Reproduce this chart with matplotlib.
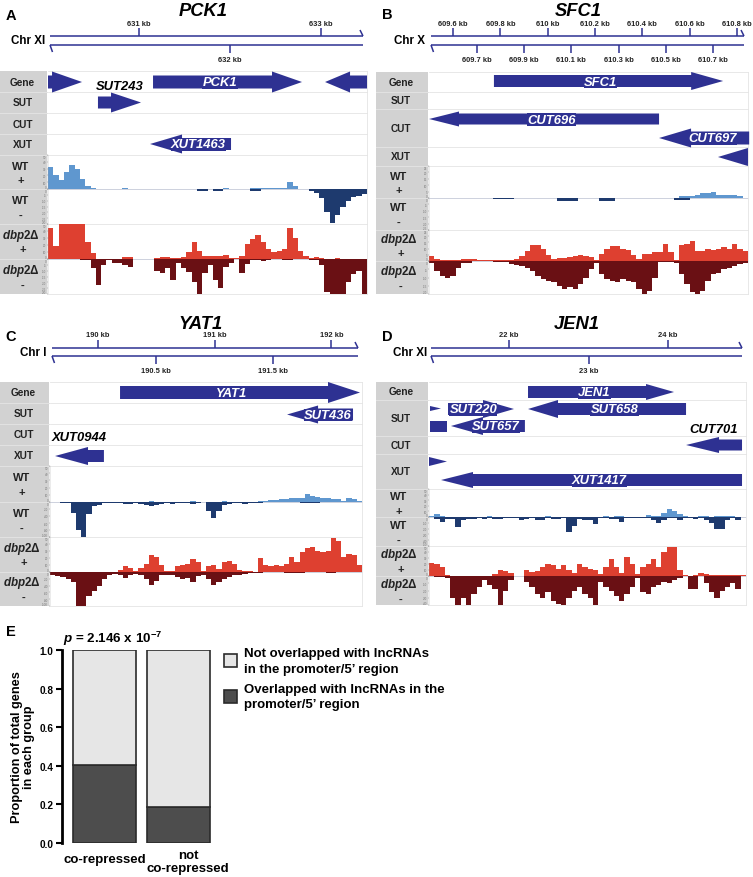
import numpy as np
import matplotlib
matplotlib.use("Agg")
import matplotlib.pyplot as plt
from matplotlib.patches import Polygon, Rectangle, Patch
import matplotlib.transforms as mtransforms

plt.rcParams['font.family'] = ['Liberation Sans', 'DejaVu Sans']
plt.rcParams['mathtext.fontset'] = 'custom'
plt.rcParams['mathtext.rm'] = 'Liberation Sans:bold'
plt.rcParams['mathtext.it'] = 'Liberation Sans:bold:italic'
plt.rcParams['mathtext.bf'] = 'Liberation Sans:bold'

# ====================== DATA ======================
GENE_TITLES = ["PCK1", "SFC1", "YAT1", "JEN1"]
CHROMOSOMES = ["Chr XI", "Chr X", "Chr I", "Chr XI"]
TRACK_NAMES = ["Gene", "SUT", "CUT", "XUT"]

# visible genomic windows (kb)
A_WINDOW = [630.0, 633.505]
B_WINDOW = [609.4985, 610.847]
C_WINDOW = [189.589, 192.262]
D_WINDOW = [20.994, 24.98]

A_TOP_TICKS = [631, 633]
A_BOTTOM_TICKS = [632]
B_TOP_TICKS = [609.6, 609.8, 610.0, 610.2, 610.4, 610.6, 610.8]
B_BOTTOM_TICKS = [609.7, 609.9, 610.1, 610.3, 610.5, 610.7]
C_TOP_TICKS = [190, 191, 192]
C_BOTTOM_TICKS = [190.5, 191.5]
D_TOP_TICKS = [22, 24]
D_BOTTOM_TICKS = [23]

# features: (name, track, start_kb, end_kb, strand, label mode)
A_FEATURES = [
    ("", "Gene", 630.00, 630.374, "+", ""),
    ("PCK1", "Gene", 631.154, 632.791, "+", "in"),
    ("", "Gene", 633.044, 633.505, "-", ""),
    ("SUT243", "SUT", 630.549, 631.022, "+", "above"),
    ("XUT1463", "XUT", 631.121, 632.011, "-", "in"),
]
B_FEATURES = [
    ("SFC1", "Gene", 609.773, 610.742, "+", "in"),
    ("CUT696", "CUT", 609.4985, 610.471, "-", "in"),
    ("CUT697", "CUT", 610.471, 610.852, "-", "in"),
    ("", "XUT", 610.720, 610.847, "-", ""),
]
C_FEATURES = [
    ("YAT1", "Gene", 190.189, 192.245, "+", "in"),
    ("SUT436", "SUT", 191.62, 192.185, "-", "in"),
    ("XUT0944", "XUT", 189.632, 190.051, "-", "above"),
]
D_FEATURES = [
    ("JEN1", "Gene", 22.239, 24.075, "+", "in"),
    ("", "SUT", 21.006, 21.145, "+", ""),
    ("SUT220", "SUT", 21.233, 22.063, "+", "in"),
    ("SUT658", "SUT", 22.239, 24.226, "-", "in"),
    ("", "SUT", 21.006, 21.22, ".", ""),
    ("SUT657", "SUT", 21.27, 22.2, "-", "in"),
    ("CUT701", "CUT", 24.226, 24.93, "-", "above"),
    ("", "XUT", 20.994, 21.22, "+", ""),
    ("XUT1417", "XUT", 21.145, 24.93, "-", "in"),
]

# coverage (RNA-seq read density), 60 equal bins across each window
A_WT_PLUS = [33, 20, 13, 25, 36, 30, 14, 4, 2, 0,
             0, 0, 0, 0, 2, 0, 0, 0, 0, 0,
             0, 0, 0, 0, 0, 0, 0, 0, 0, 0,
             0, 0, 0, 1, 0, 0, 0, 0, 2, 2,
             1.5, 1, 1, 1, 1, 10, 4, 0, 0, 0,
             0, 0, 0, 0, 0, 0, 0, 0, 0, 0]
A_WT_MINUS = [0, 0, 0, 0, 0, 0, 0, 0, 0, 0,
              0, 0, 0, 0, 0, 0, 0, 0, 0, 0,
              0, 0, 0, 0, 0, 0, 0, 0, -2, -1.5,
              0, -2, -2, 0, 0, 0, 0, 0, -1.5, -1.5,
              0, 0, 0, 0, 0, 0, 0, 0, 0, -2,
              -3, -8, -20, -29, -22, -15, -10, -7, -6, -4]
A_DBP_PLUS = [45, 18, 50, 50, 50, 50, 50, 25, 8, 0,
              0, 0, 0, 0, 3, 3, 0, 0, 0, 0,
              1, 3, 3, 1, 1, 3, 10, 25, 12, 4,
              5, 5, 4, 6, 2, 2, 4, 22, 28, 35,
              25, 15, 10, 12, 14, 45, 30, 12, 5, 1,
              3, 1, 0, 0, 2, 0, 0, 0, 0, 0]
A_DBP_MINUS = [0, 0, 0, 0, 0, 0, -1, -1, -8, -22,
               -5, -1, -3, -3, -5, -7, 0, 0, 0, 0,
               -10, -12, -8, -18, -3, -8, -11, -20, -30, -12,
               -5, -18, -25, -7, -3, 0, -12, -4, -1, -1,
               -2, -1, 0, 0, -1, -1, 0, 0, 0, -1,
               -1, -5, -28, -30, -30, -30, -20, -13, -10, -30]

B_WT_PLUS = [0, 0, 0, 0, 0, 0, 0, 0, 0, 0,
             0, 0, 0, 0, 0, 0, 0, 0, 0, 0,
             0, 0, 0, 0, 0, 0, 0, 0, 0, 0,
             0, 0, 0, 0, 0, 0, 0, 0, 0, 0,
             0, 0, 0, 0, 0, 0, 0, 1.5, 1.5, 1.5,
             2, 4, 4, 4.5, 2.5, 2.5, 2, 2, 1.5, 0]
B_WT_MINUS = [0, 0, 0, 0, 0, 0, 0, 0, 0, 0,
              0, 0, -1, -1, -1, -1, 0, 0, 0, 0,
              0, 0, 0, 0, -2.5, -2.5, -2.5, -2.5, 0, 0,
              0, 0, -2.5, -2.5, -2.5, 0, 0, 0, 0, 0,
              0, 0, 0, 0, 0, 0, -1.5, -1.5, -1.5, 0,
              0, 0, 0, 0, 0, 0, 0, 0, 0, 0]
B_DBP_PLUS = [4, 2, 0.5, 0.5, 0.5, 0.5, 1.5, 1.5, 1.5, 0.5,
              0.5, 0.5, 0.5, 0.5, 0.5, 1, 1.5, 4, 8, 13,
              13, 10, 5, 2, 2.5, 2.5, 3.5, 4, 4.5, 4,
              3, 1, 6, 10, 12, 12, 10, 9, 5, 1.5,
              6, 6, 7, 7, 14, 7, 1, 13, 14, 16,
              8, 8, 10, 9, 10, 11, 10, 14, 10, 8]
B_DBP_MINUS = [-1, -6, -9, -10, -9, -4, -1.5, -1.5, 0, 0,
               0, 0, -0.5, -0.5, -0.5, -2, -2.5, -3, -4, -6,
               -9, -11, -12, -13, -15, -17, -16, -17, -14, -10,
               -5, -1, -8, -11, -12, -13, -11, -12, -13, -17,
               -20, -18, -10, -0.5, -0.5, -0.5, -1, -8, -14, -19,
               -20, -18, -12, -8, -7, -5, -4, -3, -2, -1]

C_WT_PLUS = [0, 0, 0, 0, 0, 0, 0, 0, 0, 0,
             0, 0, 0, 0, 0, 0, 0, 0, 0, 1,
             0, 0, 0, 0, 0, 0, 0, 1, 0, 0,
             0, 0, 0, 1, 0, 0, 0, 0, 0, 0,
             1, 1, 3, 3, 4, 4, 5, 5, 6, 11,
             9, 7, 6, 5, 4, 4, 1, 6, 4, 1]
C_WT_MINUS = [-1, -1, -2, -4, -30, -80, -100, -35, -12, -8,
              -3, -2, -3, -2, -7, -5, -4, -6, -8, -12,
              -8, -5, -4, -5, -4, -2, -3, -7, -2, -1,
              -25, -45, -25, -8, -5, -4, -3, -5, -4, -2,
              -2, -1, -1, -1, -1, -1, -1, -1, -3, -4,
              -4, -3, -1, 0, 0, 0, 0, 0, 0, 0]
C_DBP_PLUS = [0, 0, 0, 0, 0, 0, 0, 0, 0, 0,
              0, 0, 0, 3, 8, 6, 1, 6, 12, 25,
              22, 10, 2, 2, 8, 10, 12, 18, 15, 2,
              8, 10, 4, 14, 16, 12, 3, 1, 1, 0.5,
              20, 10, 9, 10, 8, 12, 22, 15, 28, 34,
              36, 30, 28, 30, 48, 44, 22, 26, 24, 10]
C_DBP_MINUS = [-8, -12, -15, -20, -30, -100, -100, -70, -55, -40,
               -20, -10, -5, -8, -18, -10, -5, -10, -20, -38,
               -25, -10, -8, -10, -15, -20, -18, -28, -12, -8,
               -20, -38, -30, -20, -15, -10, -8, -5, -3, -2,
               -2, -1, -0.5, -0.5, -0.5, -2, -2, -1.5, -2, -1,
               -0.5, -0.5, -0.5, -2, -2, 0, 0, 0, 0, 0]

D_WT_PLUS = [2, 5, 1, 0.5, 0.5, 0.5, 0.5, 0.5, 0.5, 0.5,
             0.5, 1, 0.5, 0.5, 0.5, 0.5, 0.5, 0.5, 0.5, 0.5,
             0.5, 0.5, 1, 0.5, 0.5, 0.5, 0.5, 0.5, 0.5, 0.5,
             0.5, 0.5, 0.5, 1, 0.5, 2, 1, 0.5, 0.5, 0.5,
             0.5, 3, 1, 2, 8, 15, 10, 6, 2, 0.5,
             0.5, 1.5, 1, 0.5, 1, 1, 1, 1, 0.5, 0.5]
D_WT_MINUS = [0, -3, -8, -3, -3, -18, -5, -3, -4, -1,
              -3, -2, -4, -4, -1, -2, -1, -5, -4, -2,
              -6, -6, -2, -4, -3, -1, -25, -15, -3, -6,
              -6, -12, -1, -1, -4, -4, -8, -1, -1, -1,
              -1, -1, -5, -10, -5, -2, -1, -5, -1, -1,
              -3, -1, -5, -10, -20, -20, -5, -1, -6, 0]
D_DBP_PLUS = [22, 20, 15, 1, 0.5, 0.5, 0.5, 0.5, 0.5, 0.5,
              0.5, 0.5, 3, 10, 8, 5, 0.5, 0.5, 10, 6,
              8, 15, 20, 18, 12, 18, 10, 5, 20, 15,
              12, 10, 3, 15, 28, 15, 5, 32, 20, 3,
              15, 20, 28, 15, 40, 48, 48, 10, 1, 0.5,
              1, 5, 4, 2, 1.5, 2, 1, 1, 1, 1]
D_DBP_MINUS = [0, -2, -2, -3, -30, -40, -30, -40, -25, -15,
               -5, -12, -18, -40, -20, -5, 0, 0, -8, -15,
               -25, -30, -22, -35, -38, -40, -30, -20, -15, -25,
               -30, -40, -8, -15, -20, -28, -35, -25, -15, -3,
               -22, -25, -15, -12, -8, -10, -5, -3, 0, -18,
               -18, 0, -10, -22, -30, -20, -15, -10, -18, 0]

# panel E
E_GROUPS = ["co-repressed", "not\nco-repressed"]
E_OVERLAPPED = [0.405, 0.185]
E_LEGEND_LABELS = ["Not overlapped with lncRNAs\nin the promoter/5\u2019 region",
                   "Overlapped with lncRNAs in the\npromoter/5\u2019 region"]
E_P_TEXT = r"$p$ = 2.146 x 10$^{-7}$"
E_YLABEL = "Proportion of total genes\nin each group"

# ====================== STYLE / LAYOUT ======================
NAVY = '#2E3192'
COV_COLORS = ['#5F97CF', '#1E3A6E', '#DE4030', '#6A1014']
GRAY_COL = '#D2D2D2'
SEP = '#E4E4E4'

LAYOUT = {
    'A': dict(col=(0, 47), data=(48, 367), chr=(37, 46),
              rows=[72, 93, 114, 135, 156, 190, 225, 260, 295],
              letter=(6, 16), title=(203, 15.5), chrlab=(45, 41),
              lanes=[(83, 21, 13, 30), (83, 21, 13, 30), (83, 21, 13, 25),
                     (103.5, 20, 12, 30), (145, 19, 12, 32)],
              above=[None, None, None, 87, None],
              ylims=[(0, 50), (-30, 0), (0, 50), (-30, 0)], steps=[10, 5, 10, 5]),
    'B': dict(col=(376, 428), data=(429, 748), chr=(37, 46),
              rows=[73, 93, 110, 148, 167, 199, 231, 262, 295],
              letter=(382, 15), title=(578, 15.5), chrlab=(425, 41),
              lanes=[(82, 18, 12, 32), (120, 15, 11, 30), (139, 19, 13, 32),
                     (158, 18, 12, 30)],
              above=[None, None, None, None],
              ylims=[(0, 25), (-25, 0), (0, 25), (-20, 0)], steps=[5, 5, 5, 5]),
    'C': dict(col=(0, 49), data=(50, 362), chr=(349, 357),
              rows=[383, 404, 425, 446, 467, 503, 538, 573, 607],
              letter=(5, 337), title=(201, 329), chrlab=(47, 353),
              lanes=[(393.5, 21, 13, 32), (415.5, 18, 12, 31), (457, 18, 12, 33)],
              above=[None, None, 438],
              ylims=[(0, 50), (-100, 0), (0, 50), (-100, 0)], steps=[10, 20, 10, 20]),
    'D': dict(col=(376, 428), data=(429, 746), chr=(349, 357),
              rows=[383, 401, 437, 455, 490, 518, 547, 577, 606],
              letter=(382, 337), title=(577, 329), chrlab=(427, 353),
              lanes=[(393, 16, 12, 28), (409.5, 5, 0, 11), (410, 18, 12, 31),
                     (410, 18, 12, 30), (427.5, 11, 11, 0), (427, 18, 12, 32),
                     (446, 16, 11, 33), (462.5, 9, 0, 18), (481, 16, 12, 32)],
              above=[None, None, None, None, None, None, 430, None, None],
              ylims=[(0, 50), (-50, 0), (0, 50), (-40, 0)], steps=[10, 10, 10, 10]),
}

W, H = 753, 878
fig = plt.figure(figsize=(W / 100, H / 100), dpi=100)


def px_axes(x0, y0, x1, y1):
    ax = fig.add_axes([x0 / W, 1 - y1 / H, (x1 - x0) / W, (y1 - y0) / H])
    ax.set_facecolor('none')
    return ax


ov = px_axes(0, 0, W, H)
ov.set_xlim(0, W)
ov.set_ylim(H, 0)
ov.axis('off')


def draw_panel(key, title, chrom, window, top_ticks, bot_ticks, features, coverage):
    L = LAYOUT[key]
    cx0, cx1 = L['col']
    dx0, dx1 = L['data']
    rows = L['rows']
    kbpp = (window[1] - window[0]) / (dx1 - dx0)

    ov.text(L['letter'][0], L['letter'][1], key, fontsize=10.5, fontweight='bold',
            ha='left', va='center')
    ov.text(L['title'][0], L['title'][1], title, fontsize=13.2, fontweight='bold',
            style='italic', ha='center', va='baseline')

    # chromosome ruler
    yt, yb = L['chr']
    ca = px_axes(dx0, yt - 22, dx1, yb + 22)
    ca.set_xlim(window)
    ca.set_ylim(yb + 22, yt - 22)
    ca.axis('off')
    x0 = window[0] + 2 * kbpp
    x1 = window[1] - 4 * kbpp
    lk = dict(color=NAVY, lw=1.1, clip_on=False, solid_capstyle='butt')
    ca.plot([x0, x1], [yt, yt], **lk)
    ca.plot([x0, x1], [yb, yb], **lk)
    ca.plot([x1 - 3 * kbpp, x1], [yt - 6, yt], **lk)
    ca.plot([x0, x0 + 2.5 * kbpp], [yb, yb + 7], **lk)
    for t in top_ticks:
        ca.plot([t, t], [yt - 8, yt], **lk)
        ca.text(t, yt - 13, f"{t:g} kb", ha='center', va='center', fontsize=5.4,
                fontweight='bold', color='#222222')
    for t in bot_ticks:
        ca.plot([t, t], [yb, yb + 8], **lk)
        ca.text(t, yb + 14.5, f"{t:g} kb", ha='center', va='center', fontsize=5.4,
                fontweight='bold', color='#222222')
    ov.text(L['chrlab'][0], L['chrlab'][1], chrom, ha='right', va='center',
            fontsize=8.4, fontweight='bold')

    # label column & separators
    ov.add_patch(Rectangle((cx0, rows[0]), cx1 - cx0, rows[-1] - rows[0],
                           facecolor=GRAY_COL, edgecolor='none'))
    for y in rows[1:-1]:
        ov.plot([cx0, cx1], [y, y], color='#E2E2E2', lw=0.7)
    for y in rows:
        ov.plot([dx0, dx1], [y, y], color=SEP, lw=0.6)
    ov.plot([dx1, dx1], [rows[0], rows[-1]], color=SEP, lw=0.6)
    cmid = (cx0 + cx1) / 2
    for i, nm in enumerate(TRACK_NAMES):
        ov.text(cmid - 1, (rows[i] + rows[i + 1]) / 2, nm, ha='center', va='center',
                fontsize=7.2, fontweight='bold', color='#222222')
    heads = ["WT", "WT", r"$\mathit{dbp2}$" + "\u0394", r"$\mathit{dbp2}$" + "\u0394"]
    signs = ["+", "-", "+", "-"]
    for k in range(4):
        yc = (rows[4 + k] + rows[5 + k]) / 2
        is_dbp = k >= 2
        ov.text(cmid - 3, yc - 6.5, heads[k], ha='center',
                va='center', fontsize=8.4 if is_dbp else 8, fontweight='bold',
                color='#222222')
        ov.text(cmid - (1 if is_dbp else 3), yc + 8, signs[k], ha='center',
                va='center', fontsize=8, fontweight='bold', color='#222222')

    # annotation features
    aa = px_axes(dx0, rows[0], dx1, rows[4])
    aa.set_xlim(window)
    aa.set_ylim(rows[4], rows[0])
    aa.axis('off')
    for f, lane, ay in zip(features, L['lanes'], L['above']):
        name, track, s, e, strand, mode = f
        yc, hh, bh, hl = lane
        hlk = min(hl * kbpp, e - s)
        if strand == '+':
            neck = e - hlk
            if neck - s < 1e-9:
                pts = [(s, yc - hh / 2), (e, yc), (s, yc + hh / 2)]
            else:
                pts = [(s, yc - bh / 2), (neck, yc - bh / 2), (neck, yc - hh / 2), (e, yc),
                       (neck, yc + hh / 2), (neck, yc + bh / 2), (s, yc + bh / 2)]
            body_c = (s + neck) / 2
        elif strand == '-':
            neck = s + hlk
            if e - neck < 1e-9:
                pts = [(e, yc - hh / 2), (s, yc), (e, yc + hh / 2)]
            else:
                pts = [(e, yc - bh / 2), (neck, yc - bh / 2), (neck, yc - hh / 2), (s, yc),
                       (neck, yc + hh / 2), (neck, yc + bh / 2), (e, yc + bh / 2)]
            body_c = (neck + e) / 2
        else:
            pts = [(s, yc - bh / 2), (e, yc - bh / 2), (e, yc + bh / 2), (s, yc + bh / 2)]
            body_c = (s + e) / 2
        aa.add_patch(Polygon(pts, closed=True, facecolor=NAVY, edgecolor='none',
                             clip_on=False))
        if mode == 'in':
            xc = (body_c + (s + e) / 2) / 2
            aa.text(xc, yc + 0.5, name, color='white', fontsize=9.4, fontweight='bold',
                    style='italic', ha='center', va='center', clip_on=False,
                    bbox=dict(boxstyle='square,pad=0.02', fc=NAVY, ec='none'))
        elif mode == 'above':
            aa.text((s + e) / 2, ay, name, color='black', fontsize=9.4,
                    fontweight='bold', style='italic', ha='center', va='center',
                    clip_on=False)

    # coverage tracks
    for k, arr in enumerate(coverage):
        ax = px_axes(dx0, rows[4 + k], dx1, rows[5 + k])
        lo, hi = L['ylims'][k]
        edges = np.linspace(window[0], window[1], len(arr) + 1)
        ax.stairs(np.clip(arr, lo, hi), edges, fill=True, color=COV_COLORS[k], baseline=0,
                  lw=0)
        ax.axhline(0, color='#C9CEDD', lw=0.6, zorder=0)
        ax.set_xlim(window)
        ax.set_ylim(lo, hi)
        for sp in ['top', 'right', 'bottom']:
            ax.spines[sp].set_visible(False)
        ax.spines['left'].set_color('#A0A0A0')
        ax.spines['left'].set_linewidth(0.3)
        ax.set_xticks([])
        step = L['steps'][k]
        ticks = np.arange(0, hi + 1e-9, step) if hi > 0 else np.arange(lo, 1e-9, step)
        ax.set_yticks(ticks)
        ax.set_yticklabels([f"{int(round(t))}" for t in ticks])
        ax.tick_params(axis='y', labelsize=2.2, length=1.0, width=0.3, colors='#777777',
                       pad=0.3)
        tl = ax.get_yticklabels()
        tl[0].set_verticalalignment('bottom')
        tl[-1].set_verticalalignment('top')


draw_panel('A', GENE_TITLES[0], CHROMOSOMES[0], A_WINDOW, A_TOP_TICKS, A_BOTTOM_TICKS,
           A_FEATURES, [A_WT_PLUS, A_WT_MINUS, A_DBP_PLUS, A_DBP_MINUS])
draw_panel('B', GENE_TITLES[1], CHROMOSOMES[1], B_WINDOW, B_TOP_TICKS, B_BOTTOM_TICKS,
           B_FEATURES, [B_WT_PLUS, B_WT_MINUS, B_DBP_PLUS, B_DBP_MINUS])
draw_panel('C', GENE_TITLES[2], CHROMOSOMES[2], C_WINDOW, C_TOP_TICKS, C_BOTTOM_TICKS,
           C_FEATURES, [C_WT_PLUS, C_WT_MINUS, C_DBP_PLUS, C_DBP_MINUS])
draw_panel('D', GENE_TITLES[3], CHROMOSOMES[3], D_WINDOW, D_TOP_TICKS, D_BOTTOM_TICKS,
           D_FEATURES, [D_WT_PLUS, D_WT_MINUS, D_DBP_PLUS, D_DBP_MINUS])

# ====================== PANEL E ======================
ov.text(6, 632, "E", fontsize=10.5, fontweight='bold', ha='left', va='center')
axE = px_axes(62, 651, 212, 844)
xpos = np.arange(len(E_GROUPS))
overlap = np.array(E_OVERLAPPED)
rest = 1 - overlap
bw = 0.857
axE.bar(xpos, overlap, width=bw, color='#4D4D4D', edgecolor='#2B2B2B', lw=1.2)
axE.bar(xpos, rest, bottom=overlap, width=bw, color='#E6E6E6', edgecolor='#2B2B2B',
        lw=1.2)
axE.set_xlim(-0.578, 1.46)
axE.set_ylim(0, 1.0)
for sp in ['top', 'right', 'bottom']:
    axE.spines[sp].set_visible(False)
axE.spines['left'].set_linewidth(2)
axE.spines['left'].set_bounds(0, 1.0)
axE.set_xticks([])
axE.set_yticks([0, 0.2, 0.4, 0.6, 0.8, 1.0])
axE.set_yticklabels([f"{v:.1f}" for v in [0, 0.2, 0.4, 0.6, 0.8, 1.0]])
axE.tick_params(axis='y', labelsize=7.2, length=4, width=1.5, pad=2)
for t in axE.get_yticklabels():
    t.set_fontweight('bold')
axE.set_ylabel(E_YLABEL, fontsize=9.2, fontweight='bold', linespacing=1.05)
axE.yaxis.set_label_coords(-0.18, 0.5)
btr = mtransforms.blended_transform_factory(axE.transData, axE.transAxes)
axE.text(-0.578 + 0.018, 1.065, E_P_TEXT, transform=btr, fontsize=9.6,
         fontweight='bold', ha='left', va='center')
axE.text(xpos[0], -0.083, E_GROUPS[0], transform=btr, ha='center', va='center',
         fontsize=9.5, fontweight='bold')
axE.text(xpos[1], -0.095, E_GROUPS[1], transform=btr + mtransforms.ScaledTranslation(
    10 / 100, 0, fig.dpi_scale_trans), ha='center', va='center', fontsize=9.5,
    fontweight='bold', linespacing=1.15)
handles = [Patch(facecolor='#E6E6E6', edgecolor='#2B2B2B', lw=1.2),
           Patch(facecolor='#4D4D4D', edgecolor='#2B2B2B', lw=1.2)]
leg = fig.legend(handles, E_LEGEND_LABELS, loc='upper left',
                 bbox_to_anchor=(224 / W, 1 - 648 / H), frameon=False,
                 handlelength=1.02, handleheight=1.15, handletextpad=0.5,
                 labelspacing=0.6, borderpad=0, borderaxespad=0,
                 prop=dict(size=9.5, weight='bold'))
for t in leg.get_texts():
    t.set_linespacing(1.4)

fig.savefig("out.png", dpi=100)
